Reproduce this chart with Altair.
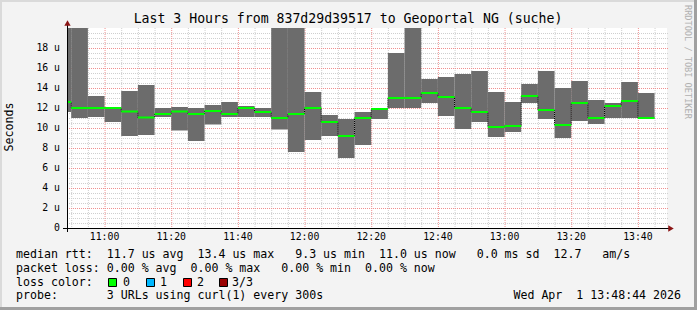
import altair as alt
import pandas as pd

# ---------------- data ----------------
bar_start = ["10:45", "10:50", "10:55", "11:00", "11:05", "11:10", "11:15", "11:20", "11:25",
             "11:30", "11:35", "11:40", "11:45", "11:50", "11:55", "12:00", "12:05", "12:10",
             "12:15", "12:20", "12:25", "12:30", "12:35", "12:40", "12:45", "12:50", "12:55",
             "13:00", "13:05", "13:10", "13:15", "13:20", "13:25", "13:30", "13:35", "13:40"]
rtt_min = [11.6, 11.0, 11.1, 10.6, 9.2, 9.3, 11.1, 9.75, 8.7, 10.35, 11.1, 11.1, 11.1, 9.85, 7.6,
           8.8, 9.2, 7.0, 8.3, 10.9, 12.0, 12.0, 12.5, 11.2, 9.9, 10.6, 9.1, 9.6, 12.5, 10.9,
           9.0, 10.7, 10.4, 11.0, 11.0, 10.9]
rtt_median = [12.6, 12.0, 12.0, 12.0, 11.65, 11.05, 11.4, 11.65, 11.4, 11.7, 11.4, 12.0, 11.6,
              11.0, 11.4, 12.0, 10.6, 9.2, 11.0, 11.9, 13.0, 13.0, 13.5, 13.1, 12.0, 11.6, 10.1,
              10.2, 13.2, 11.8, 10.3, 12.5, 11.0, 12.2, 12.7, 11.0]
rtt_max = [20.5, 20.5, 13.2, 12.1, 13.7, 14.3, 12.0, 12.1, 12.0, 12.3, 12.6, 12.2, 12.0, 20.5,
           20.5, 13.6, 11.3, 10.9, 11.6, 12.0, 17.5, 20.5, 14.9, 15.1, 15.4, 15.7, 13.6, 12.6,
           14.4, 15.7, 14.0, 14.7, 12.8, 12.5, 14.6, 13.5]

x_tick_labels = ["11:00", "11:20", "11:40", "12:00", "12:20", "12:40", "13:00", "13:20", "13:40"]
y_tick_values = [0, 2, 4, 6, 8, 10, 12, 14, 16, 18]

title_text = "Last 3 Hours from 837d29d39517 to Geoportal NG (suche)"
legend_rtt = "median rtt:  11.7 us avg  13.4 us max   9.3 us min  11.0 us now   0.0 ms sd  12.7   am/s"
legend_loss = "packet loss: 0.00 % avg  0.00 % max   0.00 % min  0.00 % now"
legend_color_label = "loss color:"
loss_labels = ["0", "1", "2", "3/3"]
loss_colors = ["#00ff00", "#00b8ff", "#ff0000", "#990000"]
legend_probe = "probe:       3 URLs using curl(1) every 300s"
date_text = "Wed Apr  1 13:48:44 2026"
watermark = "RRDTOOL / TOBI OETIKER"
y_title = "Seconds"

# ---------------- helpers ----------------
FONT = "DejaVu Sans Mono"
W, H = 600, 200
L, T = 67, 28


def px(x):
    return x - L


def py(y):
    return y - T


def nb(s):
    return s.replace(" ", "\u00a0")


def tmin(s):
    return int(s[:2]) * 60 + int(s[3:])


t0 = [tmin(s) for s in bar_start]
df = pd.DataFrame({"t0": t0, "t1": [t + 5 for t in t0],
                   "lo": rtt_min, "med": rtt_median, "hi": rtt_max})
step_df = pd.DataFrame({"t": t0 + [t0[-1] + 5], "m": rtt_median + [rtt_median[-1]]})

start = tmin("13:48") + 44 / 60 - 180
xs = alt.Scale(domain=[start, start + 180], nice=False, zero=False)
ys = alt.Scale(domain=[0, 20], nice=False, zero=False)

x_major = [tmin(s) for s in x_tick_labels]
x_minor = [m for m in range(650, 830, 5) if m not in x_major]
y_major = [v for v in y_tick_values if v > 0]
y_minor = [v / 2 for v in range(1, 40) if v % 4 != 0]

layers = []

# grid
layers.append(alt.Chart(pd.DataFrame({"v": x_minor})).mark_rule(
    color="#cfcfcf", strokeDash=[1, 1], strokeWidth=1, xOffset=0.5).encode(
    x=alt.X("v:Q", scale=xs, axis=None), y=alt.value(0), y2=alt.value(H + 2)))
layers.append(alt.Chart(pd.DataFrame({"v": y_minor})).mark_rule(
    color="#cfcfcf", strokeDash=[1, 1], strokeWidth=1, yOffset=0.5).encode(
    y=alt.Y("v:Q", scale=ys, axis=None), x=alt.value(0), x2=alt.value(W + 2)))
layers.append(alt.Chart(pd.DataFrame({"v": x_major})).mark_rule(
    color="#f09090", strokeDash=[1, 1], strokeWidth=1, xOffset=0.5).encode(
    x=alt.X("v:Q", scale=xs, axis=None), y=alt.value(0), y2=alt.value(H + 2)))
layers.append(alt.Chart(pd.DataFrame({"v": y_major})).mark_rule(
    color="#f09090", strokeDash=[1, 1], strokeWidth=1, yOffset=0.5).encode(
    y=alt.Y("v:Q", scale=ys, axis=None), x=alt.value(0), x2=alt.value(W + 2)))

# smoke (min..max)
layers.append(alt.Chart(df).mark_rect(color="#6c6c6c", clip=True).encode(
    x=alt.X("t0:Q", scale=xs, axis=None), x2="t1:Q",
    y=alt.Y("lo:Q", scale=ys, axis=None), y2="hi:Q"))

# step connectors of the median
layers.append(alt.Chart(step_df).mark_line(
    interpolate="step-after", color="#000000", strokeWidth=1, strokeDash=[1, 1], clip=True).encode(
    x=alt.X("t:Q", scale=xs, axis=None), y=alt.Y("m:Q", scale=ys, axis=None)))

# median
layers.append(alt.Chart(df).mark_rule(color="#00ff00", strokeWidth=2, clip=True).encode(
    x=alt.X("t0:Q", scale=xs, axis=None), x2="t1:Q",
    y=alt.Y("med:Q", scale=ys, axis=None)))

# axis lines and arrows
layers.append(alt.Chart(pd.DataFrame({"a": [0]})).mark_rule(color="#000000", strokeWidth=1, yOffset=0.5).encode(
    x=alt.value(px(63)), x2=alt.value(px(669)), y=alt.value(H)))
layers.append(alt.Chart(pd.DataFrame({"a": [0]})).mark_rule(color="#000000", strokeWidth=1, xOffset=0.5).encode(
    x=alt.value(0), y=alt.value(py(232)), y2=alt.value(py(23))))
layers.append(alt.Chart(pd.DataFrame({"a": [0]})).mark_point(
    shape="triangle-right", filled=True, color="#8b1515", size=40, opacity=1).encode(
    x=alt.value(px(671)), y=alt.value(H + 0.5)))
layers.append(alt.Chart(pd.DataFrame({"a": [0]})).mark_point(
    shape="triangle-up", filled=True, color="#8b1515", size=40, opacity=1).encode(
    x=alt.value(0.5), y=alt.value(py(23))))

# tick labels
layers.append(alt.Chart(pd.DataFrame({"v": x_major, "lab": x_tick_labels})).mark_text(
    font=FONT, fontSize=9.8, color="#000000", baseline="middle", align="center").encode(
    x=alt.X("v:Q", scale=xs, axis=None), y=alt.value(py(237)), text="lab:N"))
layers.append(alt.Chart(pd.DataFrame({"v": y_tick_values})).transform_calculate(
    lab="datum.v == 0 ? '0' : datum.v + '\u00a0u'").mark_text(
    font=FONT, fontSize=9.8, color="#000000", baseline="middle", align="right").encode(
    y=alt.Y("v:Q", scale=ys, axis=None), x=alt.value(px(60)), text="lab:N"))


def txt(s, x, y, size=11.6, align="left", color="#000000", angle=0):
    kw = dict(font=FONT, fontSize=size, color=color, align=align, baseline="middle")
    if angle:
        kw["angle"] = angle
    return alt.Chart(pd.DataFrame({"a": [0]})).mark_text(text=nb(s), **kw).encode(
        x=alt.value(px(x)), y=alt.value(py(y)))


layers.append(txt(title_text, 348, 19, size=13.2, align="center"))
layers.append(txt(y_title, 10, 127, size=11.6, align="center", angle=270))
layers.append(txt(watermark, 688, 5, size=8.6, align="left", color="#b0b0b0", angle=90))
layers.append(txt(legend_rtt, 16, 255))
layers.append(txt(legend_loss, 16, 268.5))
layers.append(txt(legend_color_label, 16, 282.5))
layers.append(txt(legend_probe, 16, 296))
layers.append(txt(date_text, 681, 296, align="right"))

sq_x = [108, 146, 183, 219]
lab_x = [123, 160, 197, 232]
for i in range(4):
    layers.append(alt.Chart(pd.DataFrame({"a": [0]})).mark_rect(
        color=loss_colors[i], stroke="#000000", strokeWidth=1).encode(
        x=alt.value(px(sq_x[i]) + 0.5), x2=alt.value(px(sq_x[i] + 8) + 0.5),
        y=alt.value(py(278) + 0.5), y2=alt.value(py(286) + 0.5)))
    layers.append(txt(loss_labels[i], lab_x[i], 282.5))

# frame
layers.append(alt.Chart(pd.DataFrame({"a": [0]})).mark_rect(color="#dadada").encode(
    x=alt.value(px(0)), x2=alt.value(px(697)), y=alt.value(py(0)), y2=alt.value(py(2))))
layers.append(alt.Chart(pd.DataFrame({"a": [0]})).mark_rect(color="#dadada").encode(
    x=alt.value(px(0)), x2=alt.value(px(2)), y=alt.value(py(0)), y2=alt.value(py(310))))
layers.append(alt.Chart(pd.DataFrame({"a": [0]})).mark_rect(color="#a0a0a0").encode(
    x=alt.value(px(694)), x2=alt.value(px(697)), y=alt.value(py(0)), y2=alt.value(py(310))))
layers.append(alt.Chart(pd.DataFrame({"a": [0]})).mark_rect(color="#a0a0a0").encode(
    x=alt.value(px(0)), x2=alt.value(px(697)), y=alt.value(py(307)), y2=alt.value(py(310))))

chart = alt.layer(*layers).properties(
    width=W, height=H,
    padding={"left": L, "top": T, "right": 697 - L - W, "bottom": 310 - T - H},
    autosize=alt.AutoSizeParams(type="none"),
    background="#f3f3f3",
).configure_view(fill="#ffffff", stroke=None)

chart.save("out.html", embed_options={"renderer": "svg", "actions": False})
